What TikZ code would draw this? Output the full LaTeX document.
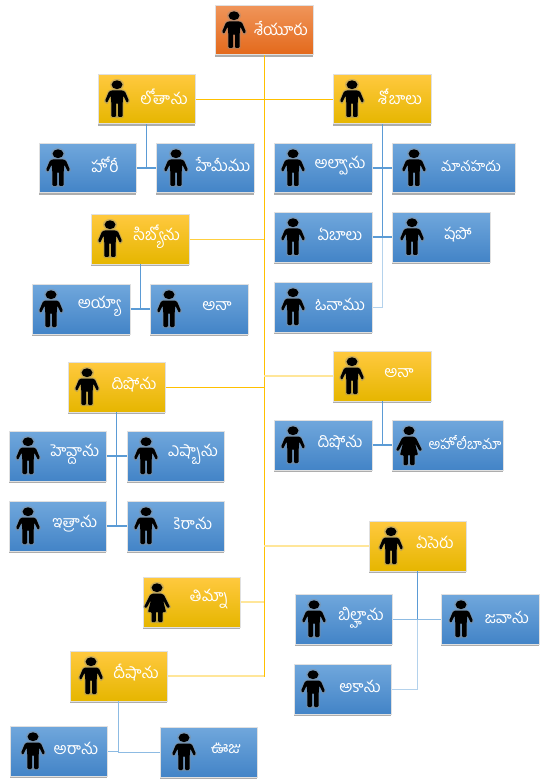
\documentclass[tikz,border=0pt]{standalone}
\usepackage{fontspec}
\newfontfamily\tel[Script=Telugu]{Hind Guntur}
\usetikzlibrary{shadows}
\definecolor{amber}{HTML}{FFC000}
\definecolor{amberM}{HTML}{FFCF40}
\definecolor{amberL}{HTML}{FFE699}
\definecolor{blueD}{HTML}{5B9BD5}
\definecolor{blueM}{HTML}{8DBBE3}
\definecolor{blueL}{HTML}{B4D2EC}
\definecolor{F1}{HTML}{F0955A}\definecolor{F2}{HTML}{E3691B}\definecolor{F3}{HTML}{EC7426}
\definecolor{G1}{HTML}{FFC93F}\definecolor{G2}{HTML}{FFC600}\definecolor{G3}{HTML}{E6B600}
\definecolor{B1}{HTML}{70A7DC}\definecolor{B2}{HTML}{5795D5}\definecolor{B3}{HTML}{4384C7}
\tikzset{
  basebox/.style={anchor=north west,inner sep=0pt,draw=black!12,line width=0.4pt,
    drop shadow={shadow xshift=0pt,shadow yshift=-1.8pt,fill=black!40,opacity=.8}},
  rootbox/.style={basebox,top color=F1,middle color=F3,bottom color=F2},
  goldbox/.style={basebox,top color=G1,middle color=G2,bottom color=G3},
  bluebox/.style={basebox,top color=B1,middle color=B2,bottom color=B3},
  lbl/.style={text=white,font=\tel\fontsize{12}{13}\selectfont,inner sep=0pt},
  small/.style={font=\tel\fontsize{10.8}{12}\selectfont},
  trunk/.style={draw=amber,line width=1.1pt},
  amb/.style={draw=amber,line width=.7pt},
  ambM/.style={draw=amberM,line width=.7pt},
  ambL/.style={draw=amberL,line width=1.1pt},
  blu/.style={draw=blueD,line width=.8pt},
  bluM/.style={draw=blueM,line width=.7pt},
  bluL/.style={draw=blueL,line width=.7pt},
  pics/man/.style={code={
    \fill[black!45,opacity=.4] (0,4.7) ellipse (7 and 5.7);
    \draw[black!45,opacity=.4,line width=1.6pt,line join=round,fill=black!45]
      (-6,10.5)--(6,10.5)--(8,11.5)--(12,21)--(10,23)--(6.3,15.5)--(5.6,24)--(5.6,37)--(-5.6,37)--(-5.6,24)--(-6.3,15.5)--(-10,23)--(-12,21)--(-8,11.5)--cycle;
    \fill[black] (0,4.7) ellipse (5.5 and 4.4);
    \fill[black,rounded corners=.9pt]
      (-6,10.5)--(6,10.5)--(8,11.5)--(12,21)--(10,23)--(6.3,15.5)--(5.6,24)--(5.6,37)--(1,37)--(1,23)--(-1,23)--(-1,37)--(-5.6,37)--(-5.6,24)--(-6.3,15.5)--(-10,23)--(-12,21)--(-8,11.5)--cycle;
  }},
  pics/woman/.style={code={
    \fill[black!45,opacity=.4] (0,4.7) ellipse (7 and 5.7);
    \draw[black!45,opacity=.4,line width=1.6pt,line join=round,fill=black!45]
      (-4,10.5)--(4,10.5)--(7,12)--(13,24)--(10.5,25)--(6,17)--(9,29)--(5.5,29)--(5.5,39)--(-5.5,39)--(-5.5,29)--(-9,29)--(-6,17)--(-10.5,25)--(-13,24)--(-7,12)--cycle;
    \fill[black] (0,4.7) ellipse (5.5 and 4.4);
    \fill[black,rounded corners=.7pt]
      (-4,10.5)--(4,10.5)--(7,12)--(13,24)--(10.5,25)--(6,17)--(9,29)--(5.5,29)--(5.5,39)--(1.2,39)--(1.2,29)--(-1.2,29)--(-1.2,39)--(-5.5,39)--(-5.5,29)--(-9,29)--(-6,17)--(-10.5,25)--(-13,24)--(-7,12)--cycle;
  }}
}
% name, style, x1, y1, x2, icon, icon x, text x, text y, then the text
\newcommand{\person}[9]{%
  \node[#2,minimum width=#5*0.75pt-#3*0.75pt,minimum height=49.5*0.75pt] (#1) at (#3,#4) {};
  \pic at (#7,#4+6) {#6};
  \node[lbl] (#1t) at (#8,#9+1.5)}
\begin{document}
\begin{tikzpicture}[x=0.75pt,y=-0.75pt]
\useasboundingbox (0,0) rectangle (551,780);
\person{seir}{rootbox}{215}{5}{313}{man}{234}{281}{27} {శేయూరు};
\person{lot}{goldbox}{98}{74}{195}{man}{117}{164}{95} {లోతాను};
\person{hori}{bluebox}{39}{143}{136}{man}{58}{105}{163} {హోరీ};
\person{hem}{bluebox}{156}{143}{254}{man}{176}{223}{163} {హేమీము};
\person{shob}{goldbox}{333}{74}{431}{man}{352}{400}{95} {శోబాలు};
\person{alv}{bluebox}{274}{143}{372}{man}{293}{340}{164} {అల్వాను};
\person{man}{bluebox}{392}{143}{515}{man}{414}{471}{165} [small] {మానహదు};
\person{ebal}{bluebox}{274}{212}{372}{man}{293}{340}{233} {ఏబాలు};
\person{shep}{bluebox}{392}{212}{490}{man}{412}{458}{233} {షపో};
\person{onam}{bluebox}{274}{282}{372}{man}{293}{340}{303} {ఓనాము};
\person{sib}{goldbox}{91}{214}{189}{man}{110}{157}{235} {సిబ్యోను};
\person{ayy}{bluebox}{32}{284}{130}{man}{51}{99}{305} {అయ్యా};
\person{ana}{bluebox}{150}{284}{248}{man}{169}{217}{305} {అనా};
\person{dis}{goldbox}{68}{362}{165}{man}{87}{134}{383} {దిషోను};
\person{hev}{bluebox}{9}{431}{106}{man}{28}{75}{453} {హెవ్దాను};
\person{esh}{bluebox}{127}{431}{224}{man}{146}{193}{453} {ఎష్బాను};
\person{ith}{bluebox}{9}{501}{106}{man}{28}{75}{522} {ఇత్రాను};
\person{ker}{bluebox}{127}{501}{224}{man}{146}{193}{522} {కెరాను};
\person{tim}{goldbox}{143}{577}{240}{woman}{157}{209}{598} {తిమ్నా};
\person{dee}{goldbox}{70}{651}{167}{man}{91}{136}{671} {దీషాను};
\person{ar}{bluebox}{10}{726}{107}{man}{33}{76}{747} {అరాను};
\person{uz}{bluebox}{160}{727}{257}{man}{184}{226}{747} {ఊజు};
\person{anaR}{goldbox}{333}{351}{431}{man}{352}{399}{372} {అనా};
\person{disR}{bluebox}{274}{420}{372}{man}{293}{340}{441} {దిషోను};
\person{aho}{bluebox}{392}{420}{503}{woman}{409}{465}{441} [small] {అహోలీబామా};
\person{ese}{goldbox}{369}{521}{466}{man}{391}{435}{541} {ఏసెరు};
\person{bil}{bluebox}{295}{594}{392}{man}{314}{361}{616} {బిల్హాను};
\person{jav}{bluebox}{441}{594}{539}{man}{461}{507}{616} {జవాను};
\person{aka}{bluebox}{294}{664}{391}{man}{313}{360}{685} {అకాను};
% connectors
\draw[trunk] (seir.south) |- (dee.east);
\draw[ambL] (dee.east) -- (dee.east -| seir.south);
\draw[ambL] (tim.east) -- (tim.east -| seir.south);
\draw[ambL] (ese.west) -- (ese.west -| seir.south);
\draw[ambL] (anaR.west) -- (anaR.west -| seir.south);
\draw[ambM] (sib.east) -- (sib.east -| seir.south);
\draw[amb] (dis.east) -- (dis.east -| seir.south);
\draw[amb] (lot.east) -- (shob.west);
\draw[blu] (lot.south) |- (hori.east);
\draw[blu] (hori.east) -- (hem.west);
\draw[bluL] (shob.south) |- (onam.east);
\draw[blu] (shob.south) |- (ebal.east);
\draw[blu] (alv.east) -- (man.west);
\draw[blu] (ebal.east) -- (shep.west);
\draw[blu] (sib.south) |- (ayy.east);
\draw[blu] (ayy.east) -- (ana.west);
\draw[blu] (dis.south) |- (ith.east);
\draw[blu] (hev.east) -- (esh.west);
\draw[blu] (ith.east) -- (ker.west);
\draw[bluM] (dee.south) |- (ar.east);
\draw[blu] (dee.south) -- (dee.south |- ar.east);
\draw[bluM] (dee.south) |- (uz.west);
\draw[blu] (anaR.south) |- (disR.east);
\draw[blu] (disR.east) -- (aho.west);
\draw[bluL] (ese.south) |- (aka.east);
\draw[blu] (ese.south) -- (ese.south |- bil.east);
\draw[bluM] (bil.east) -- (jav.west);
\end{tikzpicture}
\end{document}
